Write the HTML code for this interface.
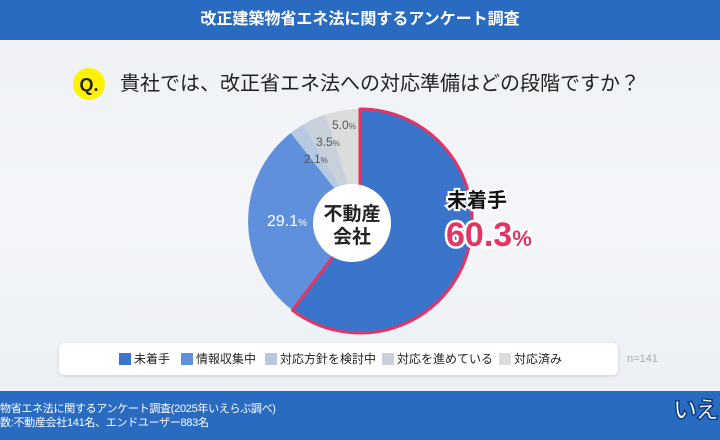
<!DOCTYPE html>
<html><head><meta charset="utf-8"><style>
html,body{margin:0;padding:0;overflow:hidden}
body{width:720px;height:440px;overflow:hidden;position:relative;font-family:"Liberation Sans","Noto Sans CJK JP",sans-serif;background:linear-gradient(#eef1f5,#f4f6f9 50%,#e9edf2)}
.hdr{position:absolute;left:0;top:0;width:720px;height:40px;background:#2a6bc2;color:#fff;font-weight:bold;font-size:16px;text-align:center;line-height:40px}
.q{position:absolute;left:73px;top:68px;width:32px;height:32px;border-radius:50%;background:#fff200;font-weight:bold;font-size:18px;line-height:34px;text-align:center;color:#222}
.qt{position:absolute;left:120px;top:67px;font-size:20px;color:#222;line-height:34px}
.leg{position:absolute;left:59px;top:343px;width:559px;height:32px;background:#fff;border-radius:5px;box-shadow:0 1px 3px rgba(0,0,0,.15);font-size:12px;color:#222}
.leg span{position:absolute;top:9px;line-height:14px;white-space:nowrap}
.leg i{display:inline-block;width:12px;height:12px;vertical-align:-2px;margin-right:3px}
.n{position:absolute;left:627px;top:353px;font-size:11px;color:#aaa}
.ftr{position:absolute;left:0;top:391px;width:720px;height:49px;background:#2a6bc2;color:#fff;font-size:11px;line-height:14px;letter-spacing:-0.3px;overflow:hidden}
.logo{position:absolute;left:673px;top:5px;font-weight:bold;font-size:24px;line-height:30px;color:#fff;-webkit-text-stroke:1.5px #0d3d80;white-space:nowrap;letter-spacing:-2px}
</style></head><body>
<div class="hdr">改正建築物省エネ法に関するアンケート調査</div>
<div class="q">Q.</div>
<div class="qt">貴社では、改正省エネ法への対応準備はどの段階ですか？</div>
<svg style="position:absolute;left:0;top:0" width="720" height="440">
<path d="M325.4,114.5 A112,112 0 0 1 360,109 L360,221 Z" fill="#dcdcdc"/>
<path d="M303,124.6 A112,112 0 0 1 325.4,114.5 L360,221 Z" fill="#c8d0dc"/>
<path d="M290.8,133 A112,112 0 0 1 303,124.6 L360,221 Z" fill="#b7c9e2"/>
<path d="M292.5,310.3 A112,112 0 0 1 290.8,133 L360,221 Z" fill="#5f90dc"/>
<path d="M360,109 A112,112 0 1 1 292.5,310.3 L360,221 Z" fill="#3a74cb" stroke="#e23565" stroke-width="3" stroke-linejoin="round"/>
<circle cx="352" cy="223" r="39" fill="#fff"/>
<text x="352" y="220" text-anchor="middle" font-size="19" font-weight="bold" fill="#222">不動産</text>
<text x="352" y="243" text-anchor="middle" font-size="19" font-weight="bold" fill="#222">会社</text>
<text x="267" y="226" font-size="16" fill="#fff">29.1<tspan font-size="10">%</tspan></text>
<text x="304" y="163" font-size="12" fill="#555">2.1<tspan font-size="8">%</tspan></text>
<text x="316" y="146" font-size="12" fill="#555">3.5<tspan font-size="8">%</tspan></text>
<text x="332" y="129" font-size="12" fill="#555">5.0<tspan font-size="8">%</tspan></text>
<text x="447" y="207" font-size="20" font-weight="bold" fill="#111" stroke="#fff" stroke-width="4" paint-order="stroke">未着手</text>
<text x="446" y="246" font-size="34" font-weight="bold" fill="#e23565" stroke="#fff" stroke-width="5" paint-order="stroke">60.3<tspan font-size="22">%</tspan></text>
</svg>
<div class="leg">
<span style="left:60px"><i style="background:#3a74cb"></i>未着手</span>
<span style="left:122px"><i style="background:#5f90dc"></i>情報収集中</span>
<span style="left:206px"><i style="background:#b7c9e2"></i>対応方針を検討中</span>
<span style="left:323px"><i style="background:#c8d0dc"></i>対応を進めている</span>
<span style="left:440px"><i style="background:#dcdcdc"></i>対応済み</span>
</div>
<div class="n">n=141</div>
<div class="ftr"><div style="position:absolute;left:0;top:11px">物省エネ法に関するアンケート調査(2025年いえらぶ調べ)</div><div style="position:absolute;left:0;top:25px">数:不動産会社141名、エンドユーザー883名</div><div class="logo">いえ</div></div>
</body></html>
